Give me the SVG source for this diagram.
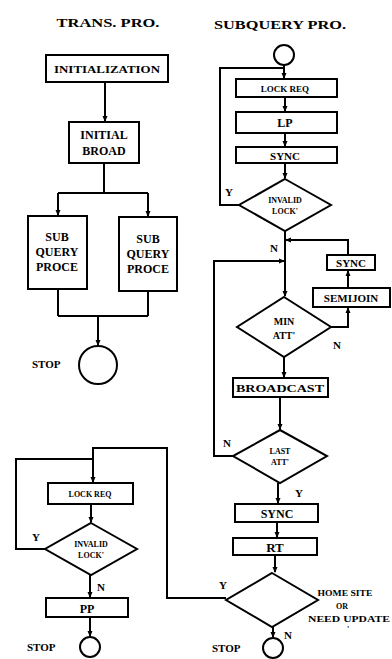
<svg xmlns="http://www.w3.org/2000/svg" width="392" height="659" viewBox="0 0 392 659">
<defs>
<marker id="ah" viewBox="0 0 6 6" refX="5" refY="3" markerWidth="6" markerHeight="6" markerUnits="userSpaceOnUse" orient="auto">
<path d="M0,0.5 L6,3 L0,5.5 Z" fill="#000"/>
</marker>
</defs>
<style>
.b{fill:#fff;stroke:#000;stroke-width:2}
.c{fill:none;stroke:#000;stroke-width:2}
.t{font-family:"Liberation Serif","DejaVu Serif",serif;font-weight:bold;fill:#000;text-anchor:middle}
.h{font-family:"Liberation Serif","DejaVu Serif",serif;font-weight:bold;fill:#000;text-anchor:middle;font-size:13px}
.l{font-family:"Liberation Serif","DejaVu Serif",serif;font-weight:bold;fill:#000;font-size:11px}
</style>
<rect width="392" height="659" fill="#fff"/>
<text class="h" x="108" y="27" textLength="103" lengthAdjust="spacingAndGlyphs">TRANS. PRO.</text>
<text class="h" x="280" y="29" textLength="132" lengthAdjust="spacingAndGlyphs">SUBQUERY PRO.</text>

<g id="connectors">
<path class="c" d="M105,82 V121" marker-end="url(#ah)"/>
<path class="c" d="M104,163 V193 M58,193 H148"/>
<path class="c" d="M58,193 V215" marker-end="url(#ah)"/>
<path class="c" d="M148,193 V216" marker-end="url(#ah)"/>
<path class="c" d="M58,289 V316 M148,291 V316 M58,316 H148"/>
<path class="c" d="M98,316 V345" marker-end="url(#ah)"/>
<path class="c" d="M284,65 V78" marker-end="url(#ah)"/>
<path class="c" d="M239,205 H220 V68 H284"/>
<path class="c" d="M285,97 V111" marker-end="url(#ah)"/>
<path class="c" d="M285,133 V146" marker-end="url(#ah)"/>
<path class="c" d="M285,163 V178" marker-end="url(#ah)"/>
<path class="c" d="M285,231 V296" marker-end="url(#ah)"/>
<path class="c" d="M348,255 V240 H286" marker-end="url(#ah)"/>
<path class="c" d="M348,288 V271" marker-end="url(#ah)"/>
<path class="c" d="M331,327 H348 V308" marker-end="url(#ah)"/>
<path class="c" d="M233,456 H214 V261 H284" marker-end="url(#ah)"/>
<path class="c" d="M284,357 V377" marker-end="url(#ah)"/>
<path class="c" d="M280,397 V429" marker-end="url(#ah)"/>
<path class="c" d="M278,483 V503" marker-end="url(#ah)"/>
<path class="c" d="M277,522 V537" marker-end="url(#ah)"/>
<path class="c" d="M275,555 V572" marker-end="url(#ah)"/>
<path class="c" d="M273,627 V637" marker-end="url(#ah)"/>
<path class="c" d="M226,598 H167 V448 H93 V482" marker-end="url(#ah)"/>
<path class="c" d="M45,549 H16 V459 H93"/>
<path class="c" d="M91,504 V522" marker-end="url(#ah)"/>
<path class="c" d="M90,575 V597" marker-end="url(#ah)"/>
<path class="c" d="M90,617 V636" marker-end="url(#ah)"/>
</g>

<g id="init"><rect class="b" x="46" y="55" width="122" height="27"/><text class="t" x="107" y="73" font-size="11" textLength="106" lengthAdjust="spacingAndGlyphs">INITIALIZATION</text></g>
<g id="initbroad"><rect class="b" x="69" y="122" width="70" height="41"/><text class="t" x="104" y="139" font-size="12">INITIAL</text><text class="t" x="104" y="155" font-size="12">BROAD</text></g>
<g id="sub1"><rect class="b" x="28" y="216" width="59" height="73"/><text class="t" x="57" y="241" font-size="12">SUB</text><text class="t" x="57" y="256" font-size="12">QUERY</text><text class="t" x="57" y="271" font-size="12">PROCE</text></g>
<g id="sub2"><rect class="b" x="119" y="217" width="58" height="74"/><text class="t" x="148" y="243" font-size="12">SUB</text><text class="t" x="148" y="258" font-size="12">QUERY</text><text class="t" x="148" y="273" font-size="12">PROCE</text></g>
<g id="stop1"><circle class="b" cx="98" cy="365" r="19"/><text class="l" x="32" y="368">STOP</text></g>

<g id="start2"><circle class="b" cx="284" cy="55" r="10"/></g>
<g id="lockreq1"><rect class="b" x="236" y="79" width="101" height="18"/><text class="t" x="285" y="92" font-size="9">LOCK REQ</text></g>
<g id="lp"><rect class="b" x="236" y="112" width="101" height="21"/><text class="t" x="285" y="127" font-size="12">LP</text></g>
<g id="sync1"><rect class="b" x="236" y="147" width="101" height="16"/><text class="t" x="285" y="160" font-size="11">SYNC</text></g>
<g id="invalid1"><path class="b" d="M285,179 L331,205 L285,231 L239,205 Z"/><text class="t" x="285" y="203" font-size="8">INVALID</text><text class="t" x="285" y="214" font-size="8">LOCK'</text></g>
<g id="sync2"><rect class="b" x="327" y="255" width="48" height="15"/><text class="t" x="351" y="267" font-size="11">SYNC</text></g>
<g id="semijoin"><rect class="b" x="313" y="288" width="77" height="19"/><text class="t" x="351" y="302" font-size="11">SEMIJOIN</text></g>
<g id="minatt"><path class="b" d="M284,297 L331,327 L284,357 L237,327 Z"/><text class="t" x="284" y="325" font-size="10">MIN</text><text class="t" x="284" y="339" font-size="10">ATT'</text></g>
<g id="broadcast"><rect class="b" x="233" y="378" width="95" height="19"/><text class="t" x="280" y="392" font-size="11" textLength="88" lengthAdjust="spacingAndGlyphs">BROADCAST</text></g>
<g id="lastatt"><path class="b" d="M280,430 L327,456 L280,483 L233,456 Z"/><text class="t" x="280" y="454" font-size="8">LAST</text><text class="t" x="280" y="465" font-size="8">ATT'</text></g>
<g id="sync3"><rect class="b" x="235" y="504" width="83" height="18"/><text class="t" x="277" y="518" font-size="12">SYNC</text></g>
<g id="rt"><rect class="b" x="233" y="538" width="84" height="17"/><text class="t" x="275" y="552" font-size="13">RT</text></g>
<g id="homesite"><path class="b" d="M272,573 L318,600 L272,627 L226,600 Z"/><text class="t" x="345" y="596" font-size="8" textLength="55" lengthAdjust="spacingAndGlyphs">HOME SITE</text><text class="t" x="342" y="609" font-size="8">OR</text><text class="t" x="349" y="622" font-size="8" textLength="82" lengthAdjust="spacingAndGlyphs">NEED UPDATE</text><text class="t" x="348" y="632" font-size="8">'</text></g>
<g id="stop2"><circle class="b" cx="273" cy="648" r="10"/><text class="l" x="212" y="652">STOP</text></g>

<g id="lockreq2"><rect class="b" x="48" y="483" width="85" height="21"/><text class="t" x="90" y="497" font-size="8">LOCK REQ</text></g>
<g id="invalid2"><path class="b" d="M91,523 L137,549 L91,575 L45,549 Z"/><text class="t" x="91" y="547" font-size="8">INVALID</text><text class="t" x="91" y="558" font-size="8">LOCK'</text></g>
<g id="pp"><rect class="b" x="46" y="598" width="82" height="19"/><text class="t" x="87" y="613" font-size="12">PP</text></g>
<g id="stop3"><circle class="b" cx="90" cy="647" r="10"/><text class="l" x="27" y="651">STOP</text></g>

<g id="labels">
<text class="l" x="225" y="196">Y</text>
<text class="l" x="270" y="252">N</text>
<text class="l" x="333" y="349">N</text>
<text class="l" x="223" y="447">N</text>
<text class="l" x="295" y="497">Y</text>
<text class="l" x="219" y="589">Y</text>
<text class="l" x="284" y="639">N</text>
<text class="l" x="32" y="541">Y</text>
<text class="l" x="97" y="591">N</text>
</g>
</svg>
